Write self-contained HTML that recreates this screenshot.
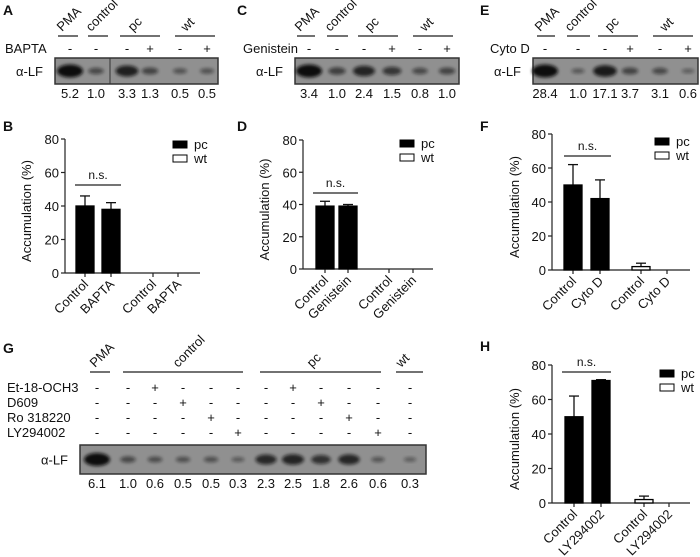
<!DOCTYPE html>
<html><head><meta charset="utf-8"><style>
body{margin:0;background:#fff}
svg{display:block;font-family:"Liberation Sans",Arial,sans-serif}
</style></head><body>
<svg id="fig" width="700" height="557" viewBox="0 0 700 557" xmlns="http://www.w3.org/2000/svg">
<defs><filter id="bl" x="-50%" y="-50%" width="200%" height="200%"><feGaussianBlur stdDeviation="1.5"/></filter></defs>
</svg>
<script>
const NS='http://www.w3.org/2000/svg';
const svg=document.getElementById('fig');
function mk(tag,attrs,parent,text){const e=document.createElementNS(NS,tag);for(const k in attrs)e.setAttribute(k,attrs[k]);if(text!==undefined)e.textContent=text;(parent||svg).appendChild(e);return e;}
function txt(x,y,s,size,parent,anchor,extra){const a=Object.assign({x:x,y:y,'font-size':size||13,'text-anchor':anchor||'start',fill:'#111'},extra||{});return mk('text',a,parent,s);}

// ---------- chart data ----------
const catsB=['Control','BAPTA','Control','BAPTA'];
const pcB=[40,38];const pcErrB=[46,42];const wtB=[null,null];const wtErrB=[null,null];
const catsD=['Control','Genistein','Control','Genistein'];
const pcD=[39,39];const pcErrD=[42,40];const wtD=[null,null];const wtErrD=[null,null];
const catsF=['Control','Cyto D','Control','Cyto D'];
const pcF=[50,42];const pcErrF=[62,53];const wtF=[2,null];const wtErrF=[4,null];
const catsH=['Control','LY294002','Control','LY294002'];
const pcH=[50,71];const pcErrH=[62,71.5];const wtH=[2,null];const wtErrH=[4,null];
const yTicks=[0,20,40,60,80];

// ---------- blot data ----------
const quantA=['5.2','1.0','3.3','1.3','0.5','0.5'];
const bandA=[1.0,0.35,0.8,0.4,0.25,0.25];
const quantC=['3.4','1.0','2.4','1.5','0.8','1.0'];
const bandC=[1.0,0.45,0.75,0.55,0.35,0.4];
const quantE=['28.4','1.0','17.1','3.7','3.1','0.6'];
const bandE=[1.0,0.2,0.85,0.4,0.35,0.15];
const quantG=['6.1','1.0','0.6','0.5','0.5','0.3','2.3','2.5','1.8','2.6','0.6','0.3'];
const bandG=[1.0,0.35,0.3,0.28,0.28,0.18,0.7,0.75,0.6,0.72,0.22,0.15];

function panelLetter(x,y,s){const t=txt(x,y,s,14,null,'start',{'font-weight':'bold'});}

function bar(cfg){
  const g=mk('g',{});
  
  
  const y0=cfg.y0,y80=cfg.y80;
  const ys=v=>y0-(v/80)*(y0-y80);
  const ax=cfg.ax;
  const yaxis=mk('line',{x1:ax,y1:y80,x2:ax,y2:y0,stroke:'#222','stroke-width':1.2},g);
  
  yTicks.forEach(t=>{mk('line',{x1:ax-4,y1:ys(t),x2:ax,y2:ys(t),stroke:'#222','stroke-width':1.2},g);
    const l=txt(ax-6,ys(t)+5,String(t),13,g,'end');});
  const xaxis=mk('line',{x1:ax,y1:y0,x2:cfg.axEnd,y2:y0,stroke:'#222','stroke-width':1.2},g);
  
  const yt=txt(0,0,'Accumulation (%)',13,g,'middle',{transform:`translate(${cfg.labX},${(y0+y80)/2+5}) rotate(-90)`});
  
  const bw=18;
  const vals=[cfg.pc[0],cfg.pc[1],cfg.wt[0],cfg.wt[1]];
  const errs=[cfg.pcErr[0],cfg.pcErr[1],cfg.wtErr[0],cfg.wtErr[1]];
  cfg.ticks.forEach((tx,i)=>{
    mk('line',{x1:tx,y1:y0,x2:tx,y2:y0+4,stroke:'#222','stroke-width':1.2},g);
    const l=txt(0,0,cfg.cats[i],13,g,'end',{transform:`translate(${tx+4},${y0+12}) rotate(-45)`});
    
    const v=vals[i];
    if(v!==null&&v!==undefined){
      const isPc=i<2;
      if(errs[i]!=null){mk('line',{x1:tx,y1:ys(errs[i]),x2:tx,y2:ys(v),stroke:'#111','stroke-width':1.3},g);
        mk('line',{x1:tx-5,y1:ys(errs[i]),x2:tx+5,y2:ys(errs[i]),stroke:'#111','stroke-width':1.3},g);}
      const r=mk('rect',{x:tx-bw/2,y:ys(v),width:bw,height:y0-ys(v),fill:isPc?'#000':'#fff',stroke:'#000','stroke-width':1.3},g);
      
      
    }
  });
  const ns=mk('line',{x1:cfg.ns[0],y1:cfg.ns[2],x2:cfg.ns[1],y2:cfg.ns[2],stroke:'#222','stroke-width':1.2},g);
  
  const nt=txt((cfg.ns[0]+cfg.ns[1])/2,cfg.ns[2]-6,'n.s.',12,g,'middle');
  const lg=mk('g',{},g);
  const lx=cfg.leg[0],ly=cfg.leg[1];
  mk('rect',{x:lx,y:ly,width:14,height:7,fill:'#000',stroke:'#000'},lg);
  const a=txt(lx+21,ly+8,'pc',13,lg);
  mk('rect',{x:lx,y:ly+14,width:14,height:7,fill:'#fff',stroke:'#000'},lg);
  const b=txt(lx+21,ly+22,'wt',13,lg);
}

function blot(cfg){
  const g=mk('g',{});
  
  
  const box=mk('rect',{x:cfg.box[0],y:cfg.box[1],width:cfg.box[2]-cfg.box[0],height:cfg.box[3]-cfg.box[1],fill:'#909090',stroke:'#333','stroke-width':1.5},g);
  
  const cy=(cfg.box[1]+cfg.box[3])/2;
  cfg.lanes.forEach((x,i)=>{
    const s=cfg.bands[i];
    const e=mk('ellipse',{cx:x,cy:cy,rx:5+8*s,ry:1.5+5*s,fill:'#111',opacity:0.3+0.7*s,filter:'url(#bl)'},g);
    
    const q=txt(x,cfg.box[3]+14,cfg.quant[i],13,g,'middle');
  });
  if(cfg.divider){mk('line',{x1:cfg.divider,y1:cfg.box[1],x2:cfg.divider,y2:cfg.box[3],stroke:'#333','stroke-width':1},g);}
  const al=txt(cfg.box[0]-12,cy+5,'α-LF',13,g,'end');
  cfg.groups.forEach(gr=>{
    mk('line',{x1:gr[1],y1:cfg.lineY,x2:gr[2],y2:cfg.lineY,stroke:'#444','stroke-width':1.4},g);
    const t=txt(0,0,gr[0],13,g,'start',{transform:`translate(${gr[3]},${cfg.lineY-4}) rotate(-45)`});
    
  });
  cfg.rows.forEach(r=>{
    const l=txt(r.lx,r.y,r.label,13,g);
    r.signs.forEach((s,i)=>{const t=txt(cfg.lanes[i],r.y,s,13,g,'middle');});
  });
}

panelLetter(3,15,'A');panelLetter(237,15,'C');panelLetter(480,15,'E');
panelLetter(3,131,'B');panelLetter(237,131,'D');panelLetter(480,131,'F');
panelLetter(3,353,'G');panelLetter(480,351,'H');

const s6=['-','-','-','+','-','+'];
blot({name:'blot-a',box:[55,58,218,84],lanes:[70,96,127,150,180,207],bands:bandA,quant:quantA,divider:110,lineY:36,
  groups:[['PMA',58,78,62],['control',88,108,91],['pc',120,160,133],['wt',175,215,186]],
  rows:[{label:'BAPTA',lx:5,y:53,signs:s6}]});
blot({name:'blot-c',box:[295,58,459,84],lanes:[309,337,364,392,420,447],bands:bandC,quant:quantC,lineY:36,
  groups:[['PMA',297,315,300],['control',327,348,330],['pc',358,398,370],['wt',413,453,425]],
  rows:[{label:'Genistein',lx:243,y:53,signs:s6}]});
blot({name:'blot-e',box:[533,58,698,84],lanes:[545,578,605,630,660,688],bands:bandE,quant:quantE,lineY:36,
  groups:[['PMA',537,555,540],['control',567,590,570],['pc',598,638,610],['wt',653,693,665]],
  rows:[{label:'Cyto D',lx:490,y:53,signs:s6}]});
const lanesG=[97,128,155,183,211,238,266,293,321,349,378,410];
blot({name:'blot-g',box:[80,445,426,474],lanes:lanesG,bands:bandG,quant:quantG,lineY:372,
  groups:[['PMA',90,110,95],['control',123,243,178],['pc',260,381,312],['wt',396,423,401]],
  rows:[
   {label:'Et-18-OCH3',lx:7,y:392,signs:['-','-','+','-','-','-','-','+','-','-','-','-']},
   {label:'D609',lx:7,y:407,signs:['-','-','-','+','-','-','-','-','+','-','-','-']},
   {label:'Ro 318220',lx:7,y:422,signs:['-','-','-','-','+','-','-','-','-','+','-','-']},
   {label:'LY294002',lx:7,y:437,signs:['-','-','-','-','-','+','-','-','-','-','+','-']}]});

bar({name:'chart-b',ax:65,y0:273,y80:139,axEnd:200,labX:31,ticks:[85,111,153,178],cats:catsB,pc:pcB,pcErr:pcErrB,wt:wtB,wtErr:wtErrB,ns:[75,121,185],leg:[173,141]});
bar({name:'chart-d',ax:303,y0:269,y80:140,axEnd:433,labX:269,ticks:[325,348,389,413],cats:catsD,pc:pcD,pcErr:pcErrD,wt:wtD,wtErr:wtErrD,ns:[313,358,193],leg:[400,140]});
bar({name:'chart-f',ax:552,y0:270,y80:134,axEnd:690,labX:519,ticks:[573,600,641,667],cats:catsF,pc:pcF,pcErr:pcErrF,wt:wtF,wtErr:wtErrF,ns:[564,611,156],leg:[655,138]});
bar({name:'chart-h',ax:552,y0:503,y80:365,axEnd:690,labX:519,ticks:[574,601,644,669],cats:catsH,pc:pcH,pcErr:pcErrH,wt:wtH,wtErr:wtErrH,ns:[562,611,372],leg:[660,370]});
</script>
</body></html>
